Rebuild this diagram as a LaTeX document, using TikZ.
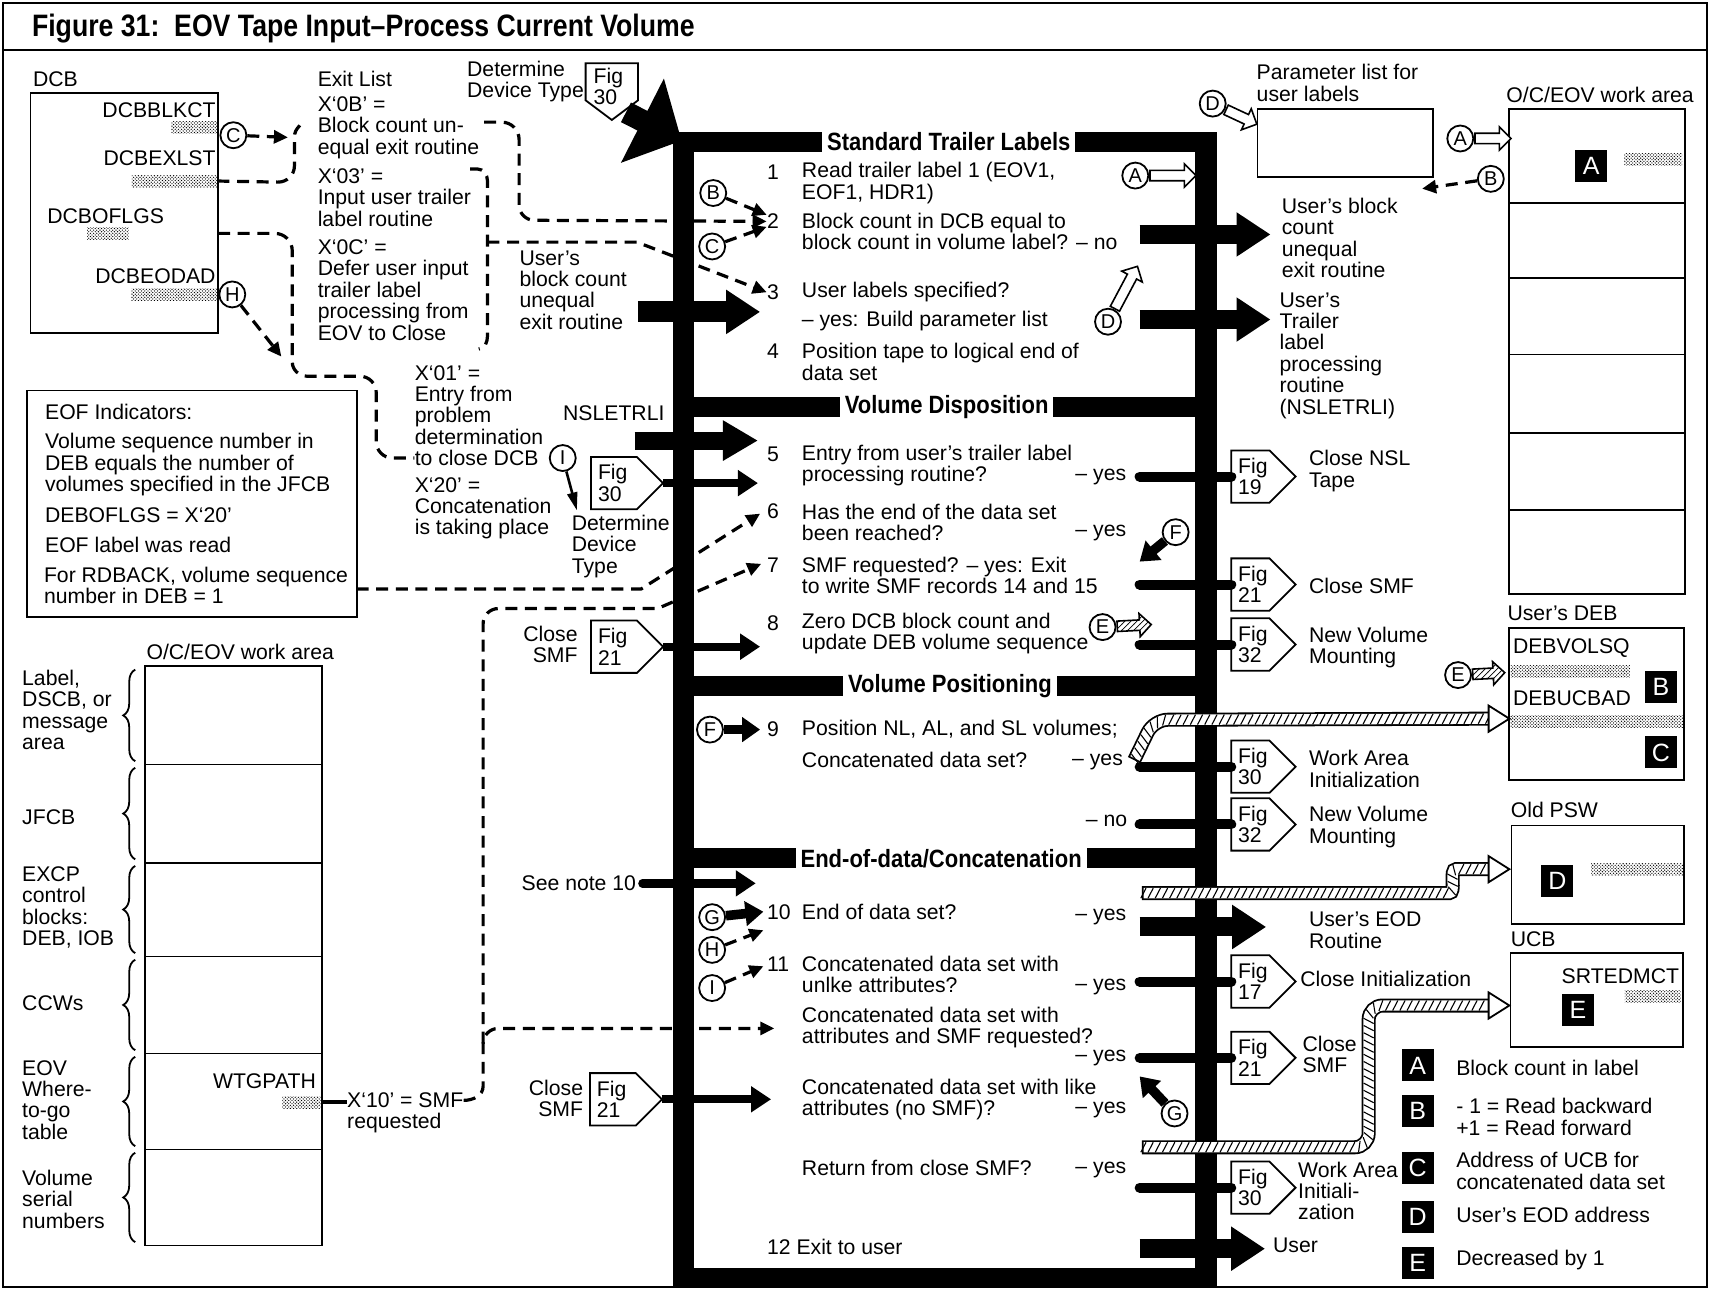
\documentclass[tikz,border=0pt]{standalone}
\usepackage{fontspec}
\setmainfont{Liberation Sans}
\newfontfamily\condfont{Liberation Sans}[FakeStretch=0.86]
\newfontfamily\hdrfont{Liberation Sans}[FakeStretch=0.88]
\usetikzlibrary{arrows.meta,decorations.pathreplacing,decorations.markings,shapes.arrows,patterns}

% fine stipple used for the field patches
\pgfdeclarepatternformonly{finedots}{\pgfpoint{-0.2pt}{-0.2pt}}{\pgfpoint{1.8pt}{1.8pt}}{\pgfpoint{1.6pt}{1.6pt}}{%
  \pgfpathcircle{\pgfpoint{0.4pt}{0.4pt}}{0.34pt}%
  \pgfpathcircle{\pgfpoint{1.2pt}{1.2pt}}{0.34pt}%
  \pgfusepath{fill}}

\def\upx{0.5453pt}

% off-page tag pointing right: name, left x, centre y, number, straight length
\newcommand\ftag[5]{%
  \draw[tagline] (#2,#3-24) -- (#2+#5,#3-24) -- (#2+#5+24,#3) -- (#2+#5,#3+24) -- (#2,#3+24) -- cycle;
  \node[txt] (#1) at (#2+6,#3) {Fig\\#4};
  \coordinate (#1-tip) at (#2+#5+24,#3);
  \coordinate (#1-in) at (#2,#3);}

% hatched band and its hollow head
\newcommand\hband[1]{%
  \draw[line width=7pt, rounded corners=7pt] #1;
  \draw[line width=5.2pt, white, rounded corners=7pt, shorten <=0.9pt] #1;
  \path[rounded corners=7pt, hatchmarks] #1;}
\newcommand\hhead[2]{%
  \filldraw[fill=white, line width=0.9pt] (#1,#2) -- (#1-19,#2-12) -- (#1-19,#2+12) -- cycle;}

\begin{document}
\begin{tikzpicture}[x=\upx, y=-\upx,
  txt/.style={font=\fontsize{10.6}{10.7}\selectfont, inner sep=0pt, anchor=west, align=left},
  hd/.style={font=\hdrfont\bfseries\fontsize{12.5}{13}\selectfont, fill=white, inner xsep=2.5pt, inner ysep=1.5pt},
  box/.style={draw, line width=0.9pt},
  stip/.style={pattern=finedots, inner sep=0pt, minimum height=6pt},
  lc/.style={circle, draw, line width=0.9pt, fill=white, minimum size=13pt, inner sep=0pt, font=\fontsize{10}{10}\selectfont},
  blk/.style={fill=black, text=white, minimum width=16pt, minimum height=16pt, inner sep=0pt, font=\fontsize{12.5}{12.5}\selectfont},
  dsh/.style={line width=1.6pt, dash pattern=on 6pt off 3.8pt},
  dtip/.style={-{Triangle[length=7pt,width=6.5pt]}},
  bigarr/.style={line width=9.5pt, -{Triangle[length=17pt,width=21pt]}},
  medarr/.style={line width=4.2pt, -{Triangle[length=10pt,width=12.5pt]}},
  farr/.style={line width=4.8pt, -{Triangle[length=9pt,width=12pt]}},
  conn/.style={line width=5pt, line cap=round},
  tagline/.style={draw, line width=0.9pt, fill=white},
  hol/.style={single arrow, draw, line width=0.8pt, fill=white, inner xsep=0pt, inner ysep=2.2pt,
    single arrow head extend=3.2pt, single arrow head indent=0pt, minimum width=0pt, anchor=tail},
  holh/.style={hol, preaction={fill=white}, pattern=north east lines},
  hatchmarks/.style={postaction={decorate, decoration={markings,
    mark=between positions 0.8pt and -0.8pt step 3.6pt with {\draw[line width=0.55pt] (-1.3pt,-2.5pt) -- (1.3pt,2.5pt);}}}},
  brc/.style={decorate, decoration={brace, amplitude=6pt}, line width=0.9pt}
]
\useasboundingbox (0,0) rectangle (1568,1183);

% ---------------- frame and title
\draw[line width=1.1pt] (3,3) rectangle (1565,1180);
\draw[line width=1.1pt] (3,46) -- (1565,46);
\node[txt, font=\condfont\bfseries\fontsize{15.5}{16}\selectfont] (title) at (29,26) {Figure 31:\ \ EOV Tape Input–Process Current Volume};

% ---------------- process spine
\fill (617,121) rectangle (636,1180);
\fill (1096,121) rectangle (1116,1180);
\fill (617,121) rectangle (1116,139);
\fill (617,1163) rectangle (1116,1180);
\fill (617,364) rectangle (1116,382);
\fill (617,620) rectangle (1116,638);
\fill (617,778) rectangle (1116,796);

% ---------------- DCB
\node[txt] (lDCB) at (30,73) {DCB};
\draw[box] (28,85) rectangle (200,305);
\node[txt, anchor=east] (fBLK) at (198,101) {DCBBLKCT};
\node[stip, minimum width=42*\upx] (sBLK) at (178,117) {};
\node[txt, anchor=east] (fEXL) at (198,145) {DCBEXLST};
\node[stip, minimum width=78*\upx] (sEXL) at (160,166) {};
\node[txt] (fOFL) at (43,198) {DCBOFLGS};
\node[stip, minimum width=38*\upx] (sOFL) at (99,214) {};
\node[txt, anchor=east] (fEOD) at (198,253) {DCBEODAD};
\node[stip, minimum width=79*\upx] (sEOD) at (160,270) {};
\node[lc] (cC1) at (214,124) {C};
\node[lc] (cH1) at (213,270) {H};

% exit list
\node[txt] (xl) at (291,72) {Exit List};
\node[txt] (x0B) at (291,117) {X‘0B’ =\\Block count un-\\equal exit routine};
\node[txt] (x03) at (291,181) {X‘03’ =\\Input user trailer\\label routine};
\node[txt] (x0C) at (291,266) {X‘0C’ =\\Defer user input\\trailer label\\processing from\\EOV to Close};
\node[txt] (x01) at (380,381) {X‘01’ =\\Entry from\\problem\\determination\\to close DCB};
\node[txt] (x20) at (380,466) {X‘20’ =\\Concatenation\\is taking place};

\coordinate (brC) at (264,126);
\draw[dsh,dtip] (cC1) -- (brC);
\draw[dsh] (sEXL.east) -- (255,167) to[out=0,in=-90] (270,152) -- (270,126) to[out=90,in=-135] (275,115);
\draw[dsh] (sOFL.east -| 200,214) -- (252,214) to[out=0,in=90] (268,230) -- (268,332) to[out=-90,in=180] (282,345)
  -- (330,345) to[out=0,in=90] (345,360) -- (345,405) to[out=-90,in=180] (360,420) -- (x01.west |- 0,420);
\coordinate (hT) at (258,327);
\draw[dsh,dtip] (cH1) -- (hT);

% ---------------- top entry
\node[txt] (ddt) at (428,75) {Determine\\Device Type};
\draw[tagline] (537,58) -- (585,58) -- (585,92) -- (561,110) -- (537,92) -- cycle;
\node[txt] (f30t) at (544,79) {Fig\\30};
\coordinate (f30t-tip) at (574,103);
\coordinate (spc) at (625,129);
\draw[line width=11pt, -{Triangle[length=22pt,width=46pt]}] (f30t-tip) -- (spc);

% ---------------- section headers
\node[hd] (hSTL) at (870,130) {Standard Trailer Labels};
\node[hd] (hVD) at (868,373) {Volume Disposition};
\node[hd] (hVP) at (871,629) {Volume Positioning};
\node[hd] (hEOD) at (863,787) {End-of-data/Concatenation};

% ---------------- steps 1-4
\node[txt] (n1) at (703,158) {1};
\node[txt] (s1) at (735,168) {Read trailer label 1 (EOV1,\\EOF1, HDR1)};
\node[txt] (n2) at (703,203) {2};
\node[txt] (s2) at (735,212) {Block count in DCB equal to\\block count in volume label? – no};
\node[txt] (n3) at (703,268) {3};
\node[txt] (s3) at (735,268) {User labels specified?};
\node[txt] (s3b) at (735,294) {– yes: Build parameter list};
\node[txt] (n4) at (703,322) {4};
\node[txt] (s4) at (735,332) {Position tape to logical end of\\data set};

\node[lc] (cB2) at (654,177) {B};
\node[lc] (cC2) at (653,226) {C};
\draw[dsh,dtip] (cB2) -- (n2.west |- 0,197);
\draw[dsh,dtip] (cC2) -- (n2.west |- 0,208);

\draw[dsh,dtip] (444,112) -- (460,112) to[out=0,in=90] (476,128) -- (476,188) to[out=-90,in=180] (490,202) -- (n2.west);
\draw[dsh] (431,155) -- (438,155) to[out=0,in=90] (447,166) -- (447,308) to[out=-90,in=0] (439,320);
\draw[dsh,dtip] (447,222) -- (584,222) -- (n3.west);

\node[txt] (ubc) at (476,266) {User’s\\block count\\unequal\\exit routine};
\coordinate (ubcS) at (585,286);
\coordinate (ubcT) at (697,286);
\draw[line width=10.5pt, -{Triangle[length=17pt,width=21pt]}] (ubcS) -- (ubcT);

\node[lc] (cA1) at (1041,161) {A};
\node[hol, minimum height=23pt] (aA1) at (cA1.east) {};
\node[lc] (cD1) at (1016,295) {D};
\node[hol, minimum height=24pt, rotate=62] (aD1) at (cD1.62) {};

\draw[bigarr] (1045,215) -- (1165,215);
\draw[bigarr] (1045,293) -- (1165,293);
\node[txt] (ubr) at (1175,218) {User’s block\\count\\unequal\\exit routine};
\node[txt] (utl) at (1173,326) {User’s\\Trailer\\label\\processing\\routine\\(NSLETRLI)};

% ---------------- parameter list and work area (right)
\node[txt] (pl) at (1152,76) {Parameter list for\\user labels};
\draw[box] (1153,100) rectangle (1314,162);
\node[lc] (cD2) at (1112,95) {D};
\node[hol, minimum height=17pt, rotate=-25] (aD2) at (cD2.-25) {};

\node[txt] (wa1) at (1381,87) {O/C/EOV work area};
\draw[box] (1384,100) rectangle (1545,545);
\foreach \yy in {186,255,325,397,468} \draw[line width=0.9pt] (1384,\yy) -- (1545,\yy);
\node[blk] (kA1) at (1459,152) {A};
\node[stip, minimum width=53*\upx] (sA1) at (1516,146) {};
\node[lc] (cA2) at (1339,127) {A};
\node[hol, minimum height=18pt] (aA2) at (cA2.east) {};
\node[lc] (cB3) at (1367,164) {B};
\coordinate (bT) at (1304,173);
\draw[dsh,dtip] (cB3) -- (bT);

% ---------------- steps 5-8
\node[txt] (nsl) at (516,379) {NSLETRLI};
\coordinate (nslS) at (582,404);
\coordinate (nslT) at (695,404);
\draw[line width=9pt, -{Triangle[length=17.5pt,width=19pt]}] (nslS) -- (nslT);

\node[txt] (n5) at (703,417) {5};
\node[txt] (s5) at (735,427) {Entry from user’s trailer label\\processing routine?};
\node[txt, anchor=east] (y5) at (1033,437) {– yes};
\ftag{fL30}{542}{443}{30}{42}
\draw[medarr] (fL30-tip) -- (695,443);
\node[lc] (cI1) at (516,420) {I};
\coordinate (iT) at (529,468);
\draw[line width=1.3pt, -{Triangle[length=9pt,width=5pt]}] (cI1) -- (iT);
\node[txt] (ddt2) at (524,501) {Determine\\Device\\Type};

\node[txt] (n6) at (703,469) {6};
\node[txt] (s6) at (735,479) {Has the end of the data set\\been reached?};
\node[txt, anchor=east] (y6) at (1033,489) {– yes};
\node[txt] (n7) at (703,518) {7};
\node[txt] (s7) at (735,527.5) {SMF requested? – yes: Exit\\to write SMF records 14 and 15};
\node[txt] (n8) at (703,571) {8};
\node[txt] (s8) at (735,581) {Zero DCB block count and\\update DEB volume sequence};

\node[txt, anchor=east, align=right] (cs1) at (530,591) {Close\\SMF};
\ftag{fL21a}{542}{593}{21}{42}
\draw[medarr] (fL21a-tip) -- (697,593);

\node[lc] (cE1) at (1011,575) {E};
\node[holh, minimum height=17pt, rotate=3] (aE1) at (cE1.3) {};
\node[lc] (cF1) at (1078,488) {F};
\coordinate (fT) at (1045,515);
\draw[farr] (cF1) -- (fT);

\ftag{fR19}{1129}{437}{19}{35}
\draw[conn] (1045,437) -- (fR19-in);
\node[txt] (t19) at (1200,432) {Close NSL\\Tape};
\ftag{fR21a}{1129}{536}{21}{35}
\draw[conn] (1045,536) -- (fR21a-in);
\node[txt] (t21a) at (1200,537) {Close SMF};
\ftag{fR32a}{1129}{591}{32}{35}
\draw[conn] (1045,591) -- (fR32a-in);
\node[txt] (t32a) at (1200,593.5) {New Volume\\Mounting};

% ---------------- EOF indicators
\draw[box] (25,358) rectangle (327,566);
\node[txt] (e1) at (41,378) {EOF Indicators:};
\node[txt] (e2) at (41,426) {Volume sequence number in\\DEB equals the number of\\volumes specified in the JFCB};
\node[txt] (e3) at (41,472) {DEBOFLGS = X‘20’};
\node[txt] (e4) at (41,500) {EOF label was read};
\node[txt] (e5) at (40,537) {For RDBACK, volume sequence\\number in DEB = 1};
\coordinate (eofS) at (327,540);
\coordinate (t6) at (697,471);
\draw[dsh,dtip] (eofS) -- (588,540) -- (t6);

% ---------------- user's DEB
\node[txt] (ldeb) at (1382,562) {User’s DEB};
\draw[box] (1384,576) rectangle (1544,715);
\node[txt] (dvs) at (1387,594) {DEBVOLSQ};
\node[stip, minimum width=109*\upx] (sDV) at (1440,616) {};
\node[txt] (dub) at (1387,640) {DEBUCBAD};
\node[stip, minimum width=159*\upx] (sDU) at (1464.5,662) {};
\node[blk] (kB1) at (1523,630) {B};
\node[blk] (kC1) at (1523,690) {C};
\node[lc] (cE2) at (1337,619) {E};
\node[holh, minimum height=16pt, rotate=3] (aE2) at (cE2.3) {};

% ---------------- step 9
\node[lc] (cF2) at (651,669) {F};
\draw[farr] (cF2) -- (697,669);
\node[txt] (n9) at (703,669) {9};
\node[txt] (s9) at (735,669) {Position NL, AL, and SL volumes;};
\node[txt] (s9b) at (735,697) {Concatenated data set?};
\node[txt, anchor=east] (y9) at (1030,699) {– yes};
\node[txt, anchor=east] (no9) at (1034,753) {– no};
\ftag{fR30a}{1129}{703}{30}{35}
\draw[conn] (1045,703) -- (fR30a-in);
\node[txt] (t30a) at (1200,705) {Work Area\\Initialization};
\ftag{fR32b}{1129}{756}{32}{35}
\draw[conn] (1045,756) -- (fR32b-in);
\node[txt] (t32b) at (1200,758.5) {New Volume\\Mounting};

\hband{(1040,697) -- (1058,660) -- (1366,659)}
\hhead{1384}{659}

% ---------------- old PSW
\node[txt] (lpsw) at (1385,743) {Old PSW};
\draw[box] (1386,757) rectangle (1544,847);
\node[blk] (kD1) at (1428,808) {D};
\node[stip, minimum width=84*\upx] (sPSW) at (1501,797) {};
\hband{(1047,819) -- (1316,819) .. controls (1336,819) and (1328,797) .. (1348,797) -- (1366,797)}
\hhead{1384}{797}

% ---------------- end of data / concatenation
\node[txt] (see) at (478,810) {See note 10};
\draw[medarr, line cap=round] (see.east) ++(3pt,0) -- (693,810);
\node[lc] (cG1) at (653,841) {G};
\draw[farr] (cG1) -- (700,836);
\node[lc] (cH2) at (653,871) {H};
\draw[dsh,dtip] (cH2) -- (700,853);
\node[lc] (cI2) at (653,906) {I};
\draw[dsh,dtip] (cI2) -- (700,886);

\node[txt] (n10) at (703,836) {10};
\node[txt] (s10) at (735,836) {End of data set?};
\node[txt, anchor=east] (y10) at (1033,841) {– yes};
\node[txt] (n11) at (703,884) {11};
\node[txt] (s11) at (735,893.5) {Concatenated data set with\\unlke attributes?};
\node[txt, anchor=east] (y11) at (1033,905) {– yes};
\node[txt] (s11b) at (735,942) {Concatenated data set with\\attributes and SMF requested?};
\node[txt, anchor=east] (y11b) at (1033,970) {– yes};
\node[txt] (s11c) at (735,1008) {Concatenated data set with like\\attributes (no SMF)?};
\node[txt, anchor=east] (y11c) at (1033,1018) {– yes};
\node[txt] (s11d) at (735,1071) {Return from close SMF?};
\node[txt, anchor=east] (y11d) at (1033,1073) {– yes};
\node[txt] (s12) at (703,1143) {12 Exit to user};

\node[txt, anchor=east, align=right] (cs2) at (535,1007) {Close\\SMF};
\ftag{fL21b}{541}{1008}{21}{42}
\draw[medarr] (fL21b-tip) -- (707,1008);

\node[lc] (cG2) at (1077,1021) {G};
\coordinate (gT) at (1045,987);
\draw[farr] (cG2) -- (gT);

\draw[bigarr] (1045,850) -- (1161,850);
\node[txt] (ueod) at (1200,853) {User’s EOD\\Routine};
\ftag{fR17}{1129}{900}{17}{35}
\draw[conn] (1045,900) -- (fR17-in);
\node[txt] (t17) at (1192,898) {Close Initialization};
\ftag{fR21b}{1129}{970}{21}{35}
\draw[conn] (1045,970) -- (fR21b-in);
\node[txt] (t21b) at (1194,967) {Close\\SMF};
\ftag{fR30b}{1129}{1089}{30}{35}
\draw[conn] (1045,1089) -- (fR30b-in);
\node[txt] (t30b) at (1190,1092) {Work Area\\Initiali-\\zation};
\draw[bigarr] (1045,1145) -- (1160,1145);
\node[txt] (tusr) at (1167,1142) {User};

\hband{(1047,1052) -- (1255,1052) -- (1255,922) -- (1366,922)}
\hhead{1384}{922}

% ---------------- UCB
\node[txt] (lucb) at (1385,861) {UCB};
\draw[box] (1385,874) rectangle (1543,960);
\node[txt, anchor=east] (srt) at (1540,895) {SRTEDMCT};
\node[blk] (kE1) at (1447,926) {E};
\node[stip, minimum width=51*\upx] (sUCB) at (1515.5,914) {};

% ---------------- legend
\node[blk] (lgA) at (1300,977) {A};
\node[txt] (lgAt) at (1335,979) {Block count in label};
\node[blk] (lgB) at (1300,1019) {B};
\node[txt] (lgBt) at (1335,1024) {- 1 = Read backward\\+1 = Read forward};
\node[blk] (lgC) at (1300,1071) {C};
\node[txt] (lgCt) at (1335,1073.5) {Address of UCB for\\concatenated data set};
\node[blk] (lgD) at (1300,1116) {D};
\node[txt] (lgDt) at (1335,1114) {User’s EOD address};
\node[blk] (lgE) at (1300,1158) {E};
\node[txt] (lgEt) at (1335,1155) {Decreased by 1};

% ---------------- work area (left)
\node[txt] (wa2) at (134,598) {O/C/EOV work area};
\draw[box] (133,611) rectangle (295,1142);
\foreach \yy in {701,791,877,966,1054} \draw[line width=0.9pt] (133,\yy) -- (295,\yy);
\foreach \ya/\yb in {611/701,701/791,791/877,877/966,966/1054,1054/1142}
  \draw[brc] (124,\yb-3) -- (124,\ya+3);
\node[txt] (w1) at (20,651) {Label,\\DSCB, or\\message\\area};
\node[txt] (w2) at (20,749) {JFCB};
\node[txt] (w3) at (20,832) {EXCP\\control\\blocks:\\DEB, IOB};
\node[txt] (w4) at (20,920) {CCWs};
\node[txt] (w5) at (20,1008.5) {EOV\\Where-\\to-go\\table};
\node[txt] (w6) at (20,1099.5) {Volume\\serial\\numbers};
\node[txt, anchor=east] (wtg) at (290,991) {WTGPATH};
\node[stip, minimum width=35*\upx] (sWTG) at (276.5,1010.5) {};
\node[txt] (x10) at (318,1009) {X‘10’ = SMF};
\node[txt] (x10b) at (318,1030) {requested};
\draw[line width=2.2pt] (sWTG.east) -- (x10.west |- sWTG.east);

\coordinate (t7) at (698,517);
\coordinate (tC) at (710,943);
\draw[dsh,dtip] (x10.east) to[out=0,in=-90] (443,996) -- (443,957) to[out=90,in=180] (457,943) -- (tC);
\draw[dsh,dtip] (443,957) -- (443,572) to[out=90,in=180] (457,558) -- (603,558) -- (t7);
\end{tikzpicture}
\end{document}
